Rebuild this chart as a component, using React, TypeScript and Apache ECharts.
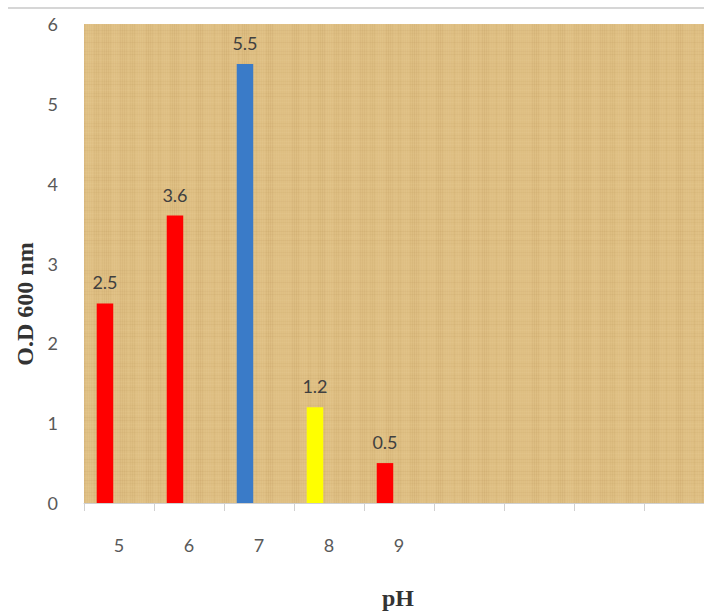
import React, { useEffect, useRef } from "react";
import * as echarts from "echarts";

const categories = ["5", "6", "7", "8", "9", "", "", "", "", ""];
const odValues = [2.5, 3.6, 5.5, 1.2, 0.5];
const barColors = ["#FF0000", "#FF0000", "#3A7BC8", "#FFFF00", "#FF0000"];
const yTicks = [0, 1, 2, 3, 4, 5, 6];

function makeTexture(): string {
  const c = document.createElement("canvas");
  c.width = 240;
  c.height = 240;
  const ctx = c.getContext("2d");
  if (!ctx) return "";
  ctx.fillStyle = "#DEBE82";
  ctx.fillRect(0, 0, 240, 240);
  for (let i = 0; i < 240; i += 2) {
    const a = 0.045 + 0.045 * Math.sin(i * 0.37) * Math.cos(i * 0.11);
    ctx.fillStyle = a > 0.045 ? `rgba(150,110,50,${a.toFixed(3)})` : `rgba(255,240,200,${(0.09 - a).toFixed(3)})`;
    ctx.fillRect(i, 0, 1, 240);
  }
  for (let j = 0; j < 240; j += 3) {
    const a = 0.04 + 0.04 * Math.sin(j * 0.53 + 1.3) * Math.cos(j * 0.07);
    ctx.fillStyle = a > 0.04 ? `rgba(160,120,60,${a.toFixed(3)})` : `rgba(255,235,190,${(0.08 - a).toFixed(3)})`;
    ctx.fillRect(0, j, 240, 1);
  }
  return c.toDataURL();
}

export default function App() {
  const ref = useRef<HTMLDivElement>(null);
  useEffect(() => {
    if (!ref.current) return;
    const chart = echarts.init(ref.current, null, { renderer: "svg" });
    const tex = makeTexture();
    chart.setOption({
      animation: false,
      grid: {
        left: 84,
        top: 24,
        bottom: 109,
        right: 0,
        show: true,
        borderWidth: 0,
        backgroundColor: tex ? { image: tex, repeat: "repeat" } : "#DEBE82",
      },
      xAxis: {
        type: "category",
        data: categories,
        boundaryGap: true,
        axisLine: { show: true, lineStyle: { color: "#D0D0D0", width: 1 } },
        axisTick: { show: true, interval: 0, length: 8, lineStyle: { color: "#D0D0D0" } },
        axisLabel: {
          interval: 0,
          margin: 33,
          color: "#595959",
          fontSize: 18,
          fontFamily: "Lato",
        },
        splitLine: { show: false },
      },
      yAxis: {
        type: "value",
        min: yTicks[0],
        max: yTicks[yTicks.length - 1],
        interval: 1,
        axisLine: { show: false },
        axisTick: { show: false },
        splitLine: { show: false },
        axisLabel: {
          margin: 26,
          color: "#595959",
          fontSize: 18,
          fontFamily: "Lato",
        },
      },
      series: [
        {
          type: "bar",
          barWidth: 16.5,
          barGap: "70%",
          data: odValues.map((v, i) => ({ value: v, itemStyle: { color: barColors[i] } })),
          label: {
            show: true,
            position: "top",
            distance: 12,
            color: "#404040",
            fontSize: 18,
            fontFamily: "Lato",
          },
        },
        {
          type: "bar",
          barWidth: 16.5,
          data: [],
        },
      ],
      graphic: [
        {
          type: "line",
          shape: { x1: 8, y1: 8, x2: 704, y2: 8 },
          style: { stroke: "#C8C8C8", lineWidth: 1.5 },
        },
        {
          type: "text",
          x: 25,
          y: 304,
          rotation: Math.PI / 2,
          style: {
            text: "O.D 600 nm",
            font: "bold 24px 'Liberation Serif'",
            fill: "#333333",
            align: "center",
            verticalAlign: "middle",
          },
        },
        {
          type: "text",
          x: 398,
          y: 598,
          style: {
            text: "pH",
            font: "bold 24px 'Liberation Serif'",
            fill: "#333333",
            align: "center",
            verticalAlign: "middle",
          },
        },
      ],
    });
    return () => chart.dispose();
  }, []);
  return (
    <div style={{ width: 704, height: 612, position: "absolute", left: 0, top: 0, overflow: "hidden" }}>
      <div ref={ref} style={{ width: 784, height: 612 }} />
    </div>
  );
}
